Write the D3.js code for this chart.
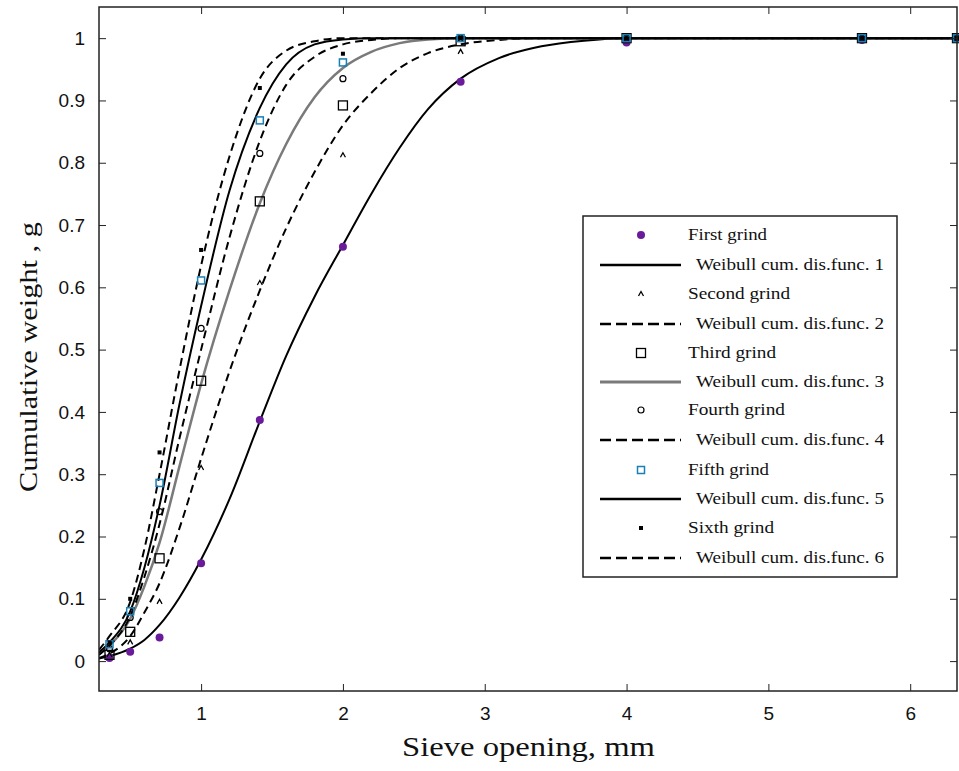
<!DOCTYPE html>
<html>
<head>
<meta charset="utf-8">
<script src="https://cdn.jsdelivr.net/npm/d3@7"></script>
<style>
  body { margin: 0; background: #fff; }
  svg { display: block; }
</style>
</head>
<body>
<svg id="chart" width="959" height="771"></svg>
<script>
let width = 959, height = 771;

// sieve openings (mm) where grinds were measured
var sieve = [0.354, 0.5, 0.707, 1.0, 1.414, 2.0, 2.83, 4.0, 5.66, 6.33];

// measured cumulative weights per grind
var firstGrind  = [0.005, 0.015, 0.038, 0.157, 0.387, 0.665, 0.930, 0.993, 0.997, 1.0];
var secondGrind = [0.010, 0.030, 0.095, 0.310, 0.607, 0.812, 0.978, 1.0, 1.0, 1.0];
var thirdGrind  = [0.010, 0.047, 0.165, 0.450, 0.738, 0.892, 0.995, 1.0, 1.0, 1.0];
var fourthGrind = [0.020, 0.070, 0.240, 0.534, 0.815, 0.935, 1.0, 1.0, 1.0, 1.0];
var fifthGrind  = [0.027, 0.080, 0.286, 0.611, 0.868, 0.961, 1.0, 1.0, 1.0, 1.0];
var sixthGrind  = [0.030, 0.100, 0.335, 0.660, 0.920, 0.975, 1.0, 1.0, 1.0, 1.0];

// fitted curves at these openings
var curveX = [0.28, 0.354, 0.5, 0.6, 0.707, 0.85, 1.0, 1.2, 1.414, 1.6, 1.8, 2.0, 2.2, 2.4, 2.6, 2.83, 3.1, 3.4, 3.7, 4.0, 5.0, 6.33];
var weibull1 = [0.004, 0.008, 0.020, 0.034, 0.058, 0.103, 0.163, 0.260, 0.385, 0.490, 0.585, 0.668, 0.750, 0.824, 0.886, 0.935, 0.968, 0.987, 0.996, 1.0, 1.0, 1.0];
var weibull2 = [0.005, 0.012, 0.040, 0.078, 0.125, 0.215, 0.325, 0.465, 0.595, 0.695, 0.785, 0.860, 0.912, 0.952, 0.976, 0.990, 0.997, 1.0, 1.0, 1.0, 1.0, 1.0];
var weibull3 = [0.012, 0.025, 0.068, 0.120, 0.190, 0.315, 0.445, 0.595, 0.735, 0.830, 0.905, 0.952, 0.978, 0.992, 0.998, 1.0, 1.0, 1.0, 1.0, 1.0, 1.0, 1.0];
var weibull4 = [0.010, 0.025, 0.072, 0.135, 0.220, 0.360, 0.500, 0.680, 0.835, 0.925, 0.970, 0.990, 0.997, 1.0, 1.0, 1.0, 1.0, 1.0, 1.0, 1.0, 1.0, 1.0];
var weibull5 = [0.014, 0.030, 0.080, 0.150, 0.250, 0.415, 0.570, 0.755, 0.888, 0.958, 0.990, 0.998, 1.0, 1.0, 1.0, 1.0, 1.0, 1.0, 1.0, 1.0, 1.0, 1.0];
var weibull6 = [0.018, 0.040, 0.095, 0.180, 0.300, 0.470, 0.635, 0.810, 0.935, 0.980, 0.995, 1.0, 1.0, 1.0, 1.0, 1.0, 1.0, 1.0, 1.0, 1.0, 1.0, 1.0];

var xTicks = [1, 2, 3, 4, 5, 6];
var yTicks = [0, 0.1, 0.2, 0.3, 0.4, 0.5, 0.6, 0.7, 0.8, 0.9, 1];

var grindNames = ["First grind", "Second grind", "Third grind", "Fourth grind", "Fifth grind", "Sixth grind"];
var fitNames = ["Weibull cum. dis.func. 1", "Weibull cum. dis.func. 2", "Weibull cum. dis.func. 3",
                "Weibull cum. dis.func. 4", "Weibull cum. dis.func. 5", "Weibull cum. dis.func. 6"];

var grinds = [firstGrind, secondGrind, thirdGrind, fourthGrind, fifthGrind, sixthGrind];
var fits = [weibull1, weibull2, weibull3, weibull4, weibull5, weibull6];

// line look per fit
var fitStyle = [
  {color: "#000", width: 2, dash: null},
  {color: "#000", width: 2, dash: "8,5"},
  {color: "#7a7a7a", width: 2.5, dash: null},
  {color: "#000", width: 2, dash: "8,5"},
  {color: "#000", width: 2, dash: null},
  {color: "#000", width: 2, dash: "8,5"}
];

// legend label widths as drawn in the original
var grindTextW = [79, 102, 88, 97, 81, 86];
var fitTextW = 188;

const margin = {left: 99, right: 2, top: 7, bottom: 80};
const svg = d3.select("#chart");

let x = d3.scaleLinear().domain([0.28, 6.33]).range([margin.left, width - margin.right]);
let y = d3.scaleLinear().domain([-0.048, 1.05]).range([height - margin.bottom, margin.top]);

const plot = svg.append("g");

plot.append("clipPath").attr("id", "clip")
  .append("rect")
  .attr("x", x.range()[0]).attr("y", y.range()[1])
  .attr("width", x.range()[1] - x.range()[0])
  .attr("height", y.range()[0] - y.range()[1]);

// fitted curves
let line = d3.line()
  .x(d => x(d[0]))
  .y(d => y(d[1]))
  .curve(d3.curveMonotoneX);

fits.forEach((vals, i) => {
  plot.append("path")
    .attr("clip-path", "url(#clip)")
    .attr("d", line(curveX.map((cx, j) => [cx, vals[j]])))
    .attr("fill", "none")
    .attr("stroke", fitStyle[i].color)
    .attr("stroke-width", fitStyle[i].width)
    .attr("stroke-dasharray", fitStyle[i].dash);
});

// marker drawing
function drawMarker(g, kind, cx, cy) {
  if (kind == 0) {
    g.append("circle").attr("cx", cx).attr("cy", cy).attr("r", 4).attr("fill", "#6a1b9a");
  } else if (kind == 1) {
    g.append("path").attr("d", `M${cx - 2.5},${cy + 2}L${cx},${cy - 2.5}L${cx + 2.5},${cy + 2}`)
      .attr("fill", "none").attr("stroke", "#000").attr("stroke-width", 1.3);
  } else if (kind == 2) {
    g.append("rect").attr("x", cx - 4.5).attr("y", cy - 4.5).attr("width", 9).attr("height", 9)
      .attr("fill", "none").attr("stroke", "#000").attr("stroke-width", 1.3);
  } else if (kind == 3) {
    g.append("circle").attr("cx", cx).attr("cy", cy).attr("r", 3)
      .attr("fill", "none").attr("stroke", "#000").attr("stroke-width", 1.2);
  } else if (kind == 4) {
    g.append("rect").attr("x", cx - 3.5).attr("y", cy - 3.5).attr("width", 7).attr("height", 7)
      .attr("fill", "none").attr("stroke", "#1a7fb5").attr("stroke-width", 1.5);
  } else {
    g.append("rect").attr("x", cx - 2).attr("y", cy - 2).attr("width", 4).attr("height", 4)
      .attr("fill", "#000");
  }
}

const marks = plot.append("g");
grinds.forEach((vals, i) => {
  vals.forEach((v, j) => drawMarker(marks, i, x(sieve[j]), y(v)));
});

// frame and inward ticks on all sides
const x0 = x.range()[0], x1 = x.range()[1], y0 = y.range()[0], y1 = y.range()[1];
const tickLen = 7;

svg.append("g")
  .attr("transform", `translate(0,${y0})`)
  .call(d3.axisBottom(x).tickValues(xTicks).tickSizeInner(-tickLen).tickSizeOuter(0).tickPadding(16).tickFormat(d3.format("d")))
  .call(g => g.select(".domain").remove())
  .call(g => g.selectAll("line").attr("stroke", "#222"))
  .call(g => g.selectAll("text").attr("font-family", "Liberation Sans, Arial, sans-serif").attr("font-size", 19).attr("fill", "#111"));

svg.append("g")
  .attr("transform", `translate(0,${y1})`)
  .call(d3.axisTop(x).tickValues(xTicks).tickSizeInner(-tickLen).tickSizeOuter(0).tickFormat(""))
  .call(g => g.select(".domain").remove())
  .call(g => g.selectAll("line").attr("stroke", "#222"));

svg.append("g")
  .attr("transform", `translate(${x0},0)`)
  .call(d3.axisLeft(y).tickValues(yTicks).tickSizeInner(-tickLen).tickSizeOuter(0).tickPadding(14).tickFormat(d => d === 0 ? "0" : d === 1 ? "1" : d3.format(".1f")(d)))
  .call(g => g.select(".domain").remove())
  .call(g => g.selectAll("line").attr("stroke", "#222"))
  .call(g => g.selectAll("text").attr("font-family", "Liberation Sans, Arial, sans-serif").attr("font-size", 19).attr("fill", "#111"));

svg.append("g")
  .attr("transform", `translate(${x1},0)`)
  .call(d3.axisRight(y).tickValues(yTicks).tickSizeInner(-tickLen).tickSizeOuter(0).tickFormat(""))
  .call(g => g.select(".domain").remove())
  .call(g => g.selectAll("line").attr("stroke", "#222"));

svg.append("rect")
  .attr("x", x0).attr("y", y1)
  .attr("width", x1 - x0).attr("height", y0 - y1)
  .attr("fill", "none").attr("stroke", "#222").attr("stroke-width", 1.5);

// axis titles
svg.append("text")
  .attr("x", 402)
  .attr("y", 756)
  .attr("font-family", "Liberation Serif, Times New Roman, serif")
  .attr("font-size", 27)
  .attr("fill", "#111")
  .attr("textLength", 253).attr("lengthAdjust", "spacingAndGlyphs")
  .text("Sieve opening, mm");

svg.append("text")
  .attr("transform", `translate(37,492) rotate(-90)`)
  .attr("font-family", "Liberation Serif, Times New Roman, serif")
  .attr("font-size", 26)
  .attr("fill", "#111")
  .attr("textLength", 270).attr("lengthAdjust", "spacingAndGlyphs")
  .text("Cumulative weight , g");

// legend
const legend = svg.append("g");
legend.append("rect")
  .attr("x", 583).attr("y", 216)
  .attr("width", 314).attr("height", 361)
  .attr("fill", "#fff").attr("stroke", "#222").attr("stroke-width", 1.5);

var rowY = [235, 265, 294, 324, 353, 382, 410, 440, 470, 499, 528, 558];
grindNames.forEach((name, i) => {
  let gy = rowY[i * 2], fy = rowY[i * 2 + 1];
  drawMarker(legend, i, 641, gy);
  legend.append("text")
    .attr("x", 688).attr("y", gy + 5)
    .attr("font-family", "Liberation Serif, Times New Roman, serif")
    .attr("font-size", 16).attr("fill", "#111")
    .attr("textLength", grindTextW[i]).attr("lengthAdjust", "spacingAndGlyphs")
    .text(name);
  legend.append("line")
    .attr("x1", 600).attr("x2", 681).attr("y1", fy).attr("y2", fy)
    .attr("stroke", fitStyle[i].color)
    .attr("stroke-width", fitStyle[i].width + 0.5)
    .attr("stroke-dasharray", fitStyle[i].dash ? "11,5" : null);
  legend.append("text")
    .attr("x", 696).attr("y", fy + 5)
    .attr("font-family", "Liberation Serif, Times New Roman, serif")
    .attr("font-size", 16).attr("fill", "#111")
    .attr("textLength", fitTextW).attr("lengthAdjust", "spacingAndGlyphs")
    .text(fitNames[i]);
});
</script>
</body>
</html>
